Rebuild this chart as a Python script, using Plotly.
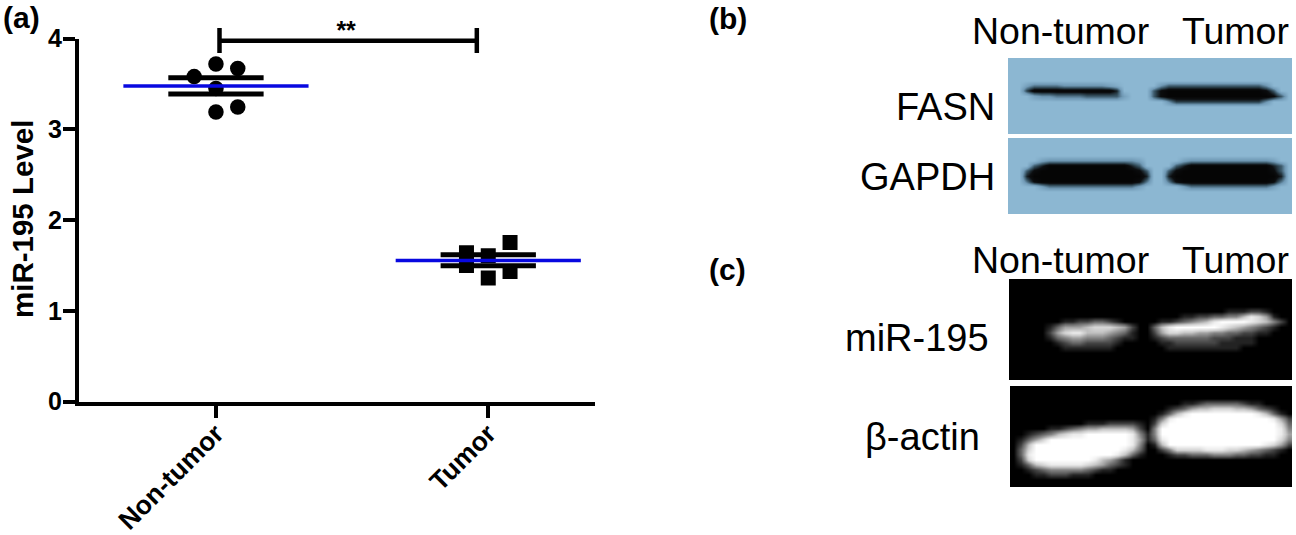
import plotly.graph_objects as go

W, H = 1296, 535

categories = ['Non-tumor', 'Tumor']
category_pos = [1, 2]
y_ticks = [0, 1, 2, 3, 4]

# scatter values
normal_x = [1.0, 1.08, 0.92, 1.0, 1.08, 1.0]
normal_y = [3.72, 3.67, 3.58, 3.45, 3.245, 3.19]
tumor_x = [2.08, 1.92, 2.0, 1.92, 2.08, 2.0]
tumor_y = [1.753, 1.64, 1.606, 1.5, 1.433, 1.36]

normal_mean = 3.477
normal_err = [3.388, 3.568]
tumor_mean = 1.554
tumor_err = [1.495, 1.617]
mean_half_width = 0.34
err_half_width = 0.175

bracket_x = [1.013, 1.013, 1.013, 1.958, 1.958, 1.958]
bracket_y = [4.116, 3.84, 3.976, 3.976, 4.116, 3.84]
star_x = [1.478]
star_y = [4.06]

# blot photos, coarse intensity per cell, one digit 0-9
fasn_rows = [
    "0" * 38, "0" * 38, "0" * 38, "0" * 38, "0" * 38,
    "00" "2444433333321" "0000" "0" "355555555555553" "000",
    "00" "6999999999997" "0000" "58999999999999985" "00",
    "000" "2334444555552" "000" "589999999999999985" "0",
    "0" * 21 + "36666666666663" "000",
    "0" * 38, "0" * 38, "0" * 38, "0" * 38, "0" * 38, "0" * 38,
]
gapdh_rows = [
    "0" * 38, "0" * 38, "0" * 38, "0" * 38,
    "0000" "23333333333332" "00000" "2333333333332" "00",
    "000" "579999999999975" "0000" "579999999999975" "0",
    "00" "58999999999999985" "00" "5899999999999985" "0",
    "00" "79999999999999997" "00" "7999999999999997" "0",
    "00" "48999999999999984" "00" "4899999999999984" "0",
    "0000" "24444444444442" "00000" "2444444444442" "00",
    "0" * 38, "0" * 38, "0" * 38, "0" * 38, "0" * 38,
]
mir_rows = [
    "0" * 38, "0" * 38, "0" * 38, "0" * 38, "0" * 38, "0" * 38,
    "0" * 29 + "111221000",
    "0" * 23 + "112233446875100",
    "00000" "001122332100" "000" "112345689999876420",
    "00000" "135556777652" "00" "3689999998765432100",
    "00000" "257886665431" "00" "2577665544332211000",
    "00000" "134554443211" "00" "1233333322211100000",
    "00000" "012332222100" "00" "0112222221111100000",
    "00000" "001111111000" "00" "0011111111110000000",
    "0" * 38, "0" * 38, "0" * 38, "0" * 38, "0" * 38, "0" * 38,
]
actin_rows = [
    "0" * 38, "0" * 38, "0" * 38,
    "0" * 23 + "112333332110" "000",
    "0" * 21 + "123566777665321" "00",
    "0" * 20 + "13689999999998631" "0",
    "0" * 19 + "1489999999999999852",
    "0" * 9 + "011122221" "0" "2799999999999999973",
    "0000" "01123455666652" "0" "4999999999999999984",
    "00" "1234678899999984" "1" "4999999999999999985",
    "0" "13579999999999985" "1" "3899999999999999974",
    "0" "26999999999999984" "0" "1699999999999998752",
    "0" "37999999999999863" "0" "0247777888776543210",
    "0" "38999999999998631" "0" "0012233344433221100",
    "0" "27999999998653100" "0" + "0" * 19,
    "0" "13678888876532100" "0" + "0" * 19,
    "0" "01234444432110000" "0" + "0" * 19,
    "0" "00112221110000000" "0" + "0" * 19,
    "0" * 38, "0" * 38,
]

BLUE = [[0, '#8cb7d2'], [0.3, '#7099b5'], [0.6, '#35505f'], [0.85, '#0c0e10'], [1, '#050505']]
GEL = [[0, '#000000'], [0.12, '#262626'], [0.3, '#5e5e5e'], [0.7, '#c8c8c8'], [1, '#ffffff']]

# rows, colours, left, right, top, bottom (pixels)
blots = [
    (fasn_rows, BLUE, 1008, 1292, 58, 134),
    (gapdh_rows, BLUE, 1008, 1292, 138, 214),
    (mir_rows, GEL, 1009, 1292, 279, 380),
    (actin_rows, GEL, 1010, 1292, 386, 487),
]


def px_x(x):
    return x / W


def px_y(y):
    return 1 - y / H


def label(text, x, y, size, anchor='left', bold=False, angle=0):
    if bold:
        text = '<b>' + text + '</b>'
    fig.add_annotation(text=text, x=px_x(x), y=px_y(y), xref='paper', yref='paper',
                       xanchor=anchor, yanchor='middle', showarrow=False, textangle=angle,
                       font=dict(family='Liberation Sans', size=size, color='black'))


fig = go.Figure()

# panel (a)
fig.add_trace(go.Scatter(x=normal_x, y=normal_y, mode='markers',
                         marker=dict(symbol='circle', size=15.5, color='black')))
fig.add_trace(go.Scatter(x=tumor_x, y=tumor_y, mode='markers',
                         marker=dict(symbol='square', size=15, color='black')))

for center, err in ((category_pos[0], normal_err), (category_pos[1], tumor_err)):
    for value in err:
        fig.add_trace(go.Scatter(x=[center - err_half_width, center + err_half_width], y=[value, value],
                                 mode='lines', line=dict(color='black', width=5)))

for center, mean in ((category_pos[0], normal_mean), (category_pos[1], tumor_mean)):
    fig.add_trace(go.Scatter(x=[center - mean_half_width, center + mean_half_width], y=[mean, mean],
                             mode='lines', line=dict(color='#0808e0', width=3.5)))

# bracket sits above the y axis end, so it gets a taller invisible twin axis
fig.add_trace(go.Scatter(x=bracket_x, y=bracket_y, mode='lines', xaxis='x6', yaxis='y6',
                         line=dict(color='black', width=4.5)))
fig.add_trace(go.Scatter(x=star_x, y=star_y, mode='text', text=['<b>**</b>'], xaxis='x6', yaxis='y6',
                         textfont=dict(family='Liberation Sans', size=25, color='black')))

x_range = [0.497, 2.392]

fig.update_layout(
    width=W, height=H, margin=dict(l=0, r=0, t=0, b=0),
    paper_bgcolor='white', plot_bgcolor='rgba(0,0,0,0)', showlegend=False,
    xaxis=dict(domain=[px_x(79), px_x(595)], range=x_range, tickvals=category_pos, ticktext=categories,
               tickangle=-45, ticks='outside', ticklen=12, tickwidth=3.5, tickcolor='black', automargin=False,
               ticklabelstandoff=-10,
               showline=True, linewidth=4, linecolor='black', showgrid=False, zeroline=False,
               tickfont=dict(family='Liberation Sans', size=26.5, color='black', weight='bold')),
    yaxis=dict(domain=[px_y(401.5), px_y(38.5)], range=[0, 4], tickvals=y_ticks, automargin=False,
               ticks='outside', ticklen=12, tickwidth=3.5, tickcolor='black', ticklabelstandoff=-4,
               showline=True, linewidth=4, linecolor='black', showgrid=False, zeroline=False,
               tickfont=dict(family='Liberation Sans', size=25, color='black', weight='bold')),
    xaxis6=dict(domain=[px_x(79), px_x(595)], range=x_range, anchor='y6', visible=False, automargin=False),
    yaxis6=dict(domain=[px_y(401.5), px_y(5)], range=[0, 4.369], anchor='x6', visible=False, automargin=False),
)

# blot panels, each on its own pair of axes
for i, (rows, colors, left, right, top, bottom) in enumerate(blots, start=2):
    z = [[int(c) for c in row] for row in rows]
    fig.add_trace(go.Heatmap(z=z, colorscale=colors, zmin=0, zmax=9, zsmooth='best', showscale=False,
                             xaxis='x%d' % i, yaxis='y%d' % i))
    fig.layout['xaxis%d' % i] = dict(domain=[px_x(left), px_x(right)], anchor='y%d' % i, visible=False,
                                     automargin=False)
    fig.layout['yaxis%d' % i] = dict(domain=[px_y(bottom), px_y(top)], anchor='x%d' % i, visible=False,
                                     automargin=False, autorange='reversed')

label('(a)', 1, 18, 30, bold=True)
label('(b)', 707, 19, 30, bold=True)
label('(c)', 707, 270, 30, bold=True)
label('miR-195 Level', 22, 219, 29.5, anchor='center', bold=True, angle=-90)

label('Non-tumor', 970, 31, 37.5)
label('Tumor', 1180, 31, 37.5)
label('Non-tumor', 970, 260, 37.5)
label('Tumor', 1180, 260, 37.5)
label('FASN', 997, 107, 38, anchor='right')
label('GAPDH', 997, 177, 38, anchor='right')
label('miR-195', 991, 338, 38, anchor='right')
label('β-actin', 982, 437, 38, anchor='right')

fig.write_html("out.html", config=dict(displayModeBar=False), post_script="document.body.style.margin='0';")
